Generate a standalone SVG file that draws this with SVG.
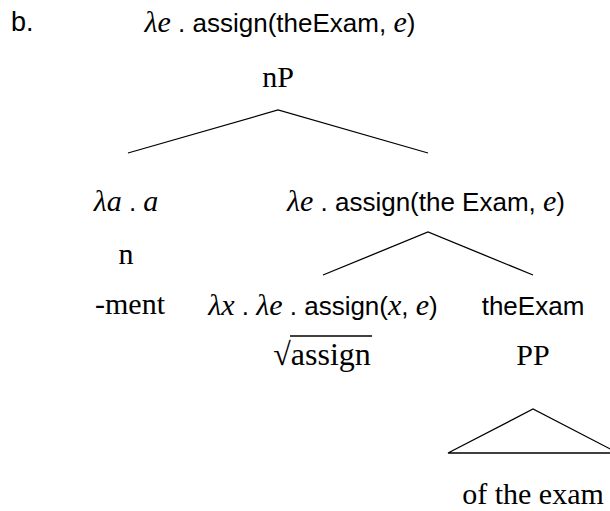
<svg xmlns="http://www.w3.org/2000/svg" width="610" height="511" viewBox="0 0 610 511">
<style>
.s{font-family:"Liberation Serif",serif;font-size:30px;fill:#000}
.ss{font-family:"Liberation Sans",sans-serif;font-size:26px;fill:#000}
.i{font-family:"Liberation Serif",serif;font-style:italic;font-size:30px}
.sf{font-family:"Liberation Sans",sans-serif;font-style:normal;font-size:26px}
.e{stroke:#000;stroke-width:1.3;fill:none}
</style>
<rect width="610" height="511" fill="#fff"/>
<g id="label-b"><text class="ss" x="11" y="31" style="font-size:27px">b.</text></g>
<g id="root-sem"><text class="i" x="280" y="32" text-anchor="middle">λe<tspan class="sf"> . assign(theExam, </tspan>e<tspan class="sf">)</tspan></text></g>
<g id="nP"><text class="s" x="278" y="87" text-anchor="middle">nP</text></g>
<g id="n-sem"><text class="i" x="126" y="211" text-anchor="middle">λa<tspan class="sf"> . </tspan>a</text></g>
<g id="right-sem"><text class="i" x="426" y="211" text-anchor="middle">λe<tspan class="sf"> . assign(the Exam, </tspan>e<tspan class="sf">)</tspan></text></g>
<g id="n"><text class="s" x="126" y="264" text-anchor="middle">n</text></g>
<g id="ment"><text class="s" x="130" y="314" text-anchor="middle">-ment</text></g>
<g id="root-fn"><text class="i" x="323" y="315" text-anchor="middle">λx<tspan class="sf"> . </tspan>λe<tspan class="sf"> . assign(</tspan>x<tspan class="sf">, </tspan>e<tspan class="sf">)</tspan></text></g>
<g id="theExam"><text class="ss" x="533" y="315" text-anchor="middle">theExam</text></g>
<g id="sqrt-assign"><text class="s" x="322" y="365" text-anchor="middle" style="font-size:32px">√assign</text><line class="e" x1="290" y1="336" x2="372" y2="336"/></g>
<g id="PP"><text class="s" x="533" y="365" text-anchor="middle">PP</text></g>
<g id="of-the-exam"><text class="s" x="533" y="504" text-anchor="middle">of the exam</text></g>
<g id="connectors">
<polyline class="e" points="128,153 278,110 428,153"/>
<polyline class="e" points="323,275 428,232 533,275"/>
<polygon class="e" points="448,453 533,409 618,453"/>
</g>
</svg>
